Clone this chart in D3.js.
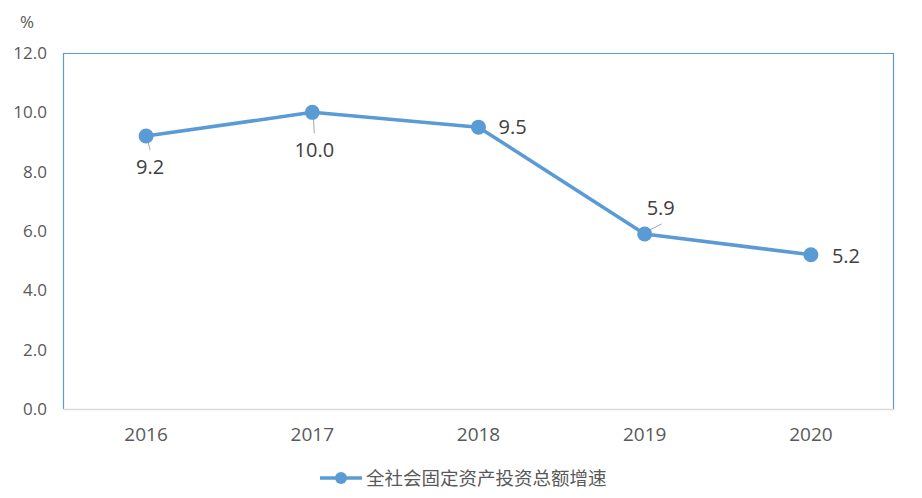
<!DOCTYPE html>
<html>
<head>
<meta charset="utf-8">
<script src="https://cdn.jsdelivr.net/npm/d3@7/dist/d3.min.js"></script>
<style>
  body { margin: 0; background: #fff; }
  text { font-family: "Segoe UI", "Open Sans", "Noto Sans", sans-serif; }
</style>
</head>
<body>
<div id="chart"></div>
<script>
const years = ["2016", "2017", "2018", "2019", "2020"];
const growth = [9.2, 10.0, 9.5, 5.9, 5.2];
const yTicks = [0, 2, 4, 6, 8, 10, 12];
const seriesName = "全社会固定资产投资总额增速";
// label placement relative to each point: [dx, dy, anchor, leader?]
const labelLayout = [
    [4, 38, "middle", true],
    [2, 45, "middle", true],
    [20, 7, "start", false],
    [16, -19, "middle", true],
    [21, 8, "start", false]
];

const margin = { top: 53, right: 28, bottom: 89, left: 63 },
    width = 922 - margin.left - margin.right,
    height = 498 - margin.top - margin.bottom;

const color = "#5b9bd5";

let svg = d3.select("#chart")
    .append("svg")
    .attr("width", 922)
    .attr("height", 498);

let group = svg.append("g")
    .attr("transform", `translate(${margin.left},${margin.top})`);

let xScale = d3.scaleBand()
    .domain(years)
    .range([0, width]);

let yScale = d3.scaleLinear()
    .domain([0, 12])
    .range([height, 0]);

// frame: left, top, right in blue
group.append("path")
    .attr("d", `M0.5,${height} V0.5 H${width - 0.5} V${height}`)
    .attr("fill", "none")
    .attr("stroke", color)
    .attr("stroke-width", 1.2);

// y axis labels
const yAxis = d3.axisLeft(yScale)
    .tickValues(yTicks)
    .tickFormat(d3.format(".1f"))
    .tickSize(0)
    .tickPadding(16);

let yDisplay = group.append("g").call(yAxis);
yDisplay.select(".domain").remove();
yDisplay.selectAll("text")
    .attr("fill", "#595959")
    .style("font-size", "17px");

// x axis
const xAxis = d3.axisBottom(xScale).tickSize(0).tickPadding(19);
let xDisplay = group.append("g")
    .attr("transform", `translate(0,${height})`)
    .call(xAxis);
xDisplay.select(".domain").attr("stroke", "#d9d9d9").attr("stroke-width", 1.3);
xDisplay.selectAll("text")
    .attr("fill", "#595959")
    .style("font-size", "19px");

// unit
svg.append("text")
    .attr("x", 20)
    .attr("y", 28)
    .attr("fill", "#595959")
    .style("font-size", "17px")
    .text("%");

const data = years.map((y, i) => ({ year: y, value: growth[i], layout: labelLayout[i] }));
const cx = d => xScale(d.year) + xScale.bandwidth() / 2;
const cy = d => yScale(d.value);

// leader lines from point toward offset labels
group.selectAll(".leader")
    .data(data.filter(d => d.layout[3]))
    .join("path")
    .attr("class", "leader")
    .attr("d", d => {
        const [dx, dy] = d.layout;
        const ex = cx(d) + (dy > 0 ? dx : dx + 1);
        const ey = cy(d) + (dy > 0 ? dy - 24 : dy + 9);
        return d3.line()([[cx(d) + 1, cy(d) + (dy > 0 ? 2 : -2)], [ex, ey]]);
    })
    .attr("stroke", "#a6a6a6")
    .attr("stroke-width", 1)
    .attr("fill", "none");

const line = d3.line().x(cx).y(cy);
group.append("path")
    .datum(data)
    .attr("d", line)
    .attr("fill", "none")
    .attr("stroke", color)
    .attr("stroke-width", 3.5)
    .attr("stroke-linejoin", "round");

group.selectAll(".dot")
    .data(data)
    .join("circle")
    .attr("class", "dot")
    .attr("cx", cx)
    .attr("cy", cy)
    .attr("r", 7.5)
    .attr("fill", color);

// data labels
group.selectAll(".label")
    .data(data)
    .join("text")
    .attr("class", "label")
    .attr("x", d => cx(d) + d.layout[0])
    .attr("y", d => cy(d) + d.layout[1])
    .attr("text-anchor", d => d.layout[2])
    .attr("fill", "#404040")
    .style("font-size", "20px")
    .text(d => d.value.toFixed(1));

// legend
let legend = svg.append("g").attr("transform", "translate(320,478)");
legend.append("line")
    .attr("x1", 0).attr("x2", 42)
    .attr("stroke", color)
    .attr("stroke-width", 3.5);
legend.append("circle")
    .attr("cx", 21)
    .attr("r", 6)
    .attr("fill", color);
legend.append("text")
    .attr("x", 46)
    .attr("y", 7)
    .attr("fill", "#595959")
    .style("font-size", "18.5px")
    .style("font-family", "'Noto Sans CJK SC', sans-serif")
    .text(seriesName);
</script>
</body>
</html>
